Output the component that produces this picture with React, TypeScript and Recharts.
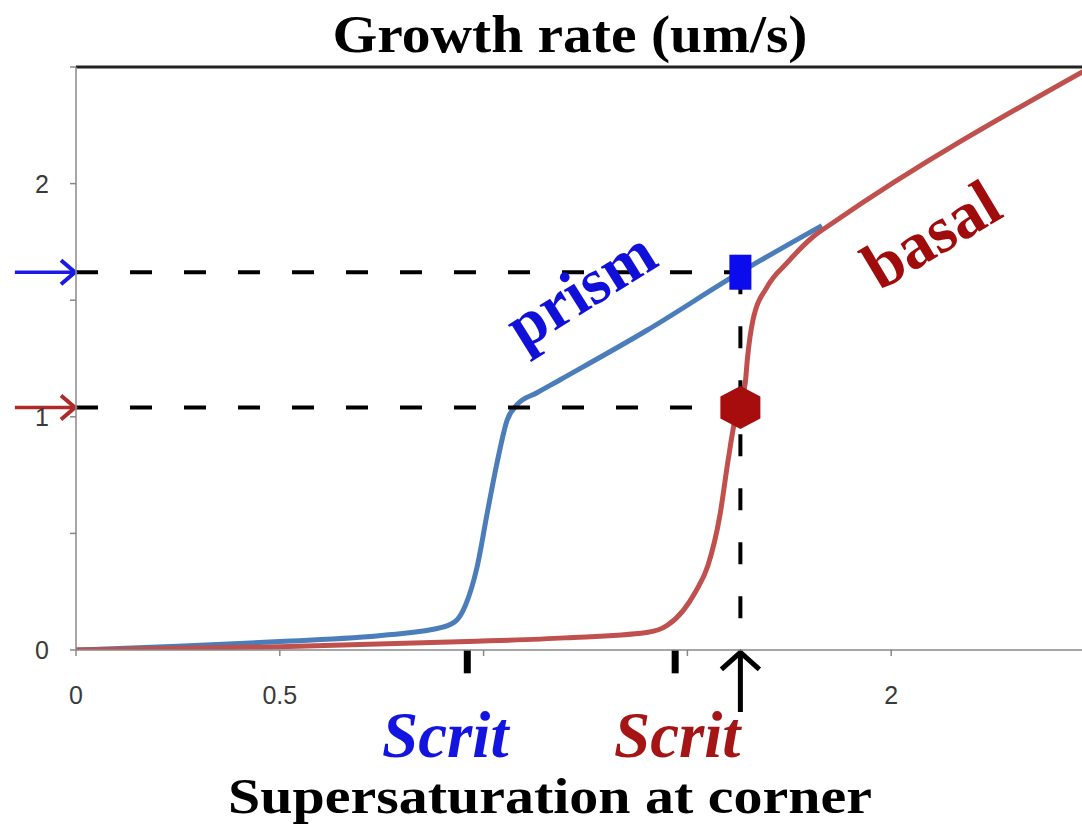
import React from 'react';
import { LineChart, Line, XAxis, YAxis, ReferenceLine, ReferenceDot } from 'recharts';

// ---- data ----
const prismS = [0, 0.25, 0.5, 0.76, 0.9, 0.935, 0.955, 0.984, 1.009, 1.033, 1.058, 1.082, 1.131, 1.188, 1.4, 1.63, 1.83];
const prismRate = [0, 0.016, 0.036, 0.064, 0.098, 0.13, 0.19, 0.356, 0.588, 0.803, 0.987, 1.052, 1.103, 1.159, 1.37, 1.62, 1.82];
const basalS = [0, 0.5, 0.96, 1.2, 1.4, 1.45, 1.49, 1.52, 1.55, 1.58, 1.6, 1.617, 1.627, 1.642, 1.647, 1.661, 1.696, 1.745, 1.809, 1.858, 2.48];
const basalRate = [0, 0.014, 0.036, 0.052, 0.075, 0.105, 0.17, 0.25, 0.36, 0.58, 0.815, 0.99, 1.05, 1.146, 1.245, 1.416, 1.558, 1.661, 1.773, 1.833, 2.49];
const axisTicks = [0, 0.5, 1, 1.5, 2, 2.5];
const xTickLabels = ['0', '0.5', '2'];
const yTickLabels = ['0', '1', '2'];

const cornerS = 1.63;
const prismCornerRate = 1.62;
const basalCornerRate = 1.04;
const scritPrism = 0.96;
const scritBasal = 1.47;

const prismData = prismS.map((x, i) => ({ x, y: prismRate[i] }));
const basalData = basalS.map((x, i) => ({ x, y: basalRate[i] }));

const BLUE_LINE = '#4A7DBA';
const RED_LINE = '#C0504D';
const DASH = '22 32';
const TICK_FONT = "'Liberation Sans', Arial, sans-serif";

const leftArrow = (color: string) => (p: any) => {
  const { x1, y1, x2, y2 } = p;
  return (
    <g>
      <line x1={x1} y1={y1} x2={x2 - 2} y2={y2} stroke={color} strokeWidth={3.5} />
      <polyline points={`${x2 - 15},${y2 - 12} ${x2 - 1},${y2} ${x2 - 15},${y2 + 12}`} fill="none" stroke={color} strokeWidth={4} />
    </g>
  );
};

const upArrow = (p: any) => {
  const { x1, y1, x2, y2 } = p;
  const top = Math.min(y1, y2);
  const bottom = Math.max(y1, y2);
  return (
    <g>
      <line x1={x1} y1={bottom} x2={x1} y2={top + 3} stroke="#000" strokeWidth={5} />
      <polyline points={`${x1 - 19},${top + 17} ${x1},${top} ${x1 + 19},${top + 17}`} fill="none" stroke="#000" strokeWidth={5} />
    </g>
  );
};

const squareShape = (p: any) => (
  <rect x={p.cx - 11} y={p.cy - 17.5} width={22} height={35} fill="#0B0BEE" />
);

const hexShape = (p: any) => {
  const { cx, cy } = p;
  const pts = [
    [cx, cy - 21.5], [cx + 20, cy - 11], [cx + 20, cy + 11],
    [cx, cy + 21.5], [cx - 20, cy + 11], [cx - 20, cy - 11],
  ].map((q) => q.join(',')).join(' ');
  return <polygon points={pts} fill="#A80D0D" />;
};

const textShape = (txt: string, color: string, size: number, angle: number, italic: boolean) => (p: any) => (
  <text
    x={p.cx}
    y={p.cy}
    textAnchor="middle"
    fill={color}
    fontFamily="'Liberation Serif', 'Times New Roman', serif"
    fontWeight="bold"
    fontStyle={italic ? 'italic' : 'normal'}
    fontSize={size}
    transform={angle ? `rotate(${angle} ${p.cx} ${p.cy})` : undefined}
  >
    {txt}
  </text>
);

const XTick = (p: any) => {
  const s = String(p.payload.value);
  if (!xTickLabels.includes(s)) return <g />;
  return (
    <text x={p.x} y={p.y} dy={18} textAnchor="middle" fill="#3a3a3a" fontSize={25} fontFamily={TICK_FONT}>
      {s}
    </text>
  );
};

const YTick = (p: any) => {
  const s = String(p.payload.value);
  if (!yTickLabels.includes(s)) return <g />;
  return (
    <text x={p.x} y={p.y} dy={9} textAnchor="end" fill="#3a3a3a" fontSize={25} fontFamily={TICK_FONT}>
      {s}
    </text>
  );
};

export default function App() {
  return (
    <div style={{ position: 'fixed', left: 0, top: 0, width: 1082, height: 835, overflow: 'hidden', background: '#fff' }}>
      <LineChart width={1110} height={835} margin={{ top: 67, right: 15, left: 16, bottom: 145 }}>
        <XAxis
          type="number"
          dataKey="x"
          domain={[0, 2.5]}
          ticks={axisTicks}
          allowDataOverflow
          height={40}
          tickSize={6}
          tickMargin={30}
          stroke="#888"
          strokeWidth={1.5}
          tick={XTick}
        />
        <YAxis
          type="number"
          dataKey="y"
          domain={[0, 2.5]}
          ticks={axisTicks}
          allowDataOverflow
          width={60}
          tickSize={6}
          tickMargin={21}
          stroke="#888"
          strokeWidth={1.5}
          tick={YTick}
        />
        <ReferenceLine y={2.5} stroke="#222" strokeWidth={3} ifOverflow="visible" />
        <Line data={prismData} dataKey="y" type="monotone" stroke={BLUE_LINE} strokeWidth={5} dot={false} isAnimationActive={false} />
        <Line data={basalData} dataKey="y" type="monotone" stroke={RED_LINE} strokeWidth={5} dot={false} isAnimationActive={false} />

        <ReferenceLine segment={[{ x: 0, y: prismCornerRate }, { x: cornerS, y: prismCornerRate }]} stroke="#000" strokeWidth={4} strokeDasharray={DASH} ifOverflow="visible" />
        <ReferenceLine segment={[{ x: 0, y: basalCornerRate }, { x: cornerS, y: basalCornerRate }]} stroke="#000" strokeWidth={4} strokeDasharray={DASH} ifOverflow="visible" />
        <ReferenceLine segment={[{ x: cornerS, y: prismCornerRate }, { x: cornerS, y: -0.02 }]} stroke="#000" strokeWidth={4} strokeDasharray={DASH} ifOverflow="visible" />

        <ReferenceLine segment={[{ x: scritPrism, y: 0 }, { x: scritPrism, y: -0.1 }]} stroke="#000" strokeWidth={7} ifOverflow="visible" />
        <ReferenceLine segment={[{ x: scritBasal, y: 0 }, { x: scritBasal, y: -0.1 }]} stroke="#000" strokeWidth={7} ifOverflow="visible" />
        <ReferenceLine segment={[{ x: cornerS, y: -0.266 }, { x: cornerS, y: -0.01 }]} shape={upArrow} ifOverflow="visible" />

        <ReferenceLine segment={[{ x: -0.15, y: prismCornerRate }, { x: 0, y: prismCornerRate }]} shape={leftArrow('#1A1AE6')} ifOverflow="visible" />
        <ReferenceLine segment={[{ x: -0.15, y: basalCornerRate }, { x: 0, y: basalCornerRate }]} shape={leftArrow('#B02A2A')} ifOverflow="visible" />

        <ReferenceDot x={cornerS} y={prismCornerRate} r={1} shape={squareShape} ifOverflow="visible" />
        <ReferenceDot x={cornerS} y={basalCornerRate} r={1} shape={hexShape} ifOverflow="visible" />

        <ReferenceDot x={1.266} y={1.468} r={1} shape={textShape('prism', '#1010D8', 65, -32, false)} ifOverflow="visible" />
        <ReferenceDot x={2.126} y={1.7} r={1} shape={textShape('basal', '#A00C0C', 66, -31, false)} ifOverflow="visible" />
        <ReferenceDot x={0.906} y={-0.459} r={1} shape={textShape('Scrit', '#1414E0', 65, 0, true)} ifOverflow="visible" />
        <ReferenceDot x={1.475} y={-0.459} r={1} shape={textShape('Scrit', '#A51515', 65, 0, true)} ifOverflow="visible" />
      </LineChart>
      <svg width={1082} height={835} style={{ position: 'absolute', left: 0, top: 0, pointerEvents: 'none' }}>
        <text x={570} y={52} textAnchor="middle" fontFamily="'Liberation Serif', 'Times New Roman', serif" fontWeight="bold" fontSize={52} fill="#000" textLength={475} lengthAdjust="spacingAndGlyphs">
          Growth rate (um/s)
        </text>
        <text x={550} y={813} textAnchor="middle" fontFamily="'Liberation Serif', 'Times New Roman', serif" fontWeight="bold" fontSize={50} fill="#000" textLength={644} lengthAdjust="spacingAndGlyphs">
          Supersaturation at corner
        </text>
      </svg>
    </div>
  );
}
